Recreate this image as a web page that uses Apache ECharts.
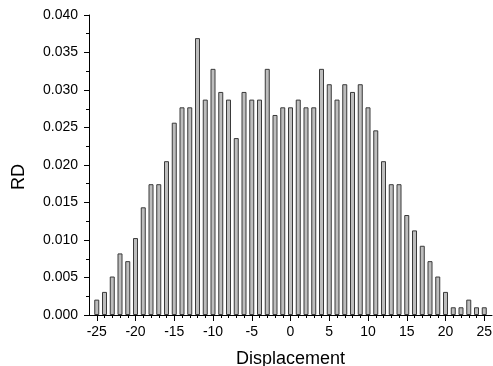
<!DOCTYPE html>
<html>
<head>
<meta charset="utf-8">
<script src="https://cdn.jsdelivr.net/npm/echarts@6/dist/echarts.min.js"></script>
<style>
	html, body { margin: 0; padding: 0; background: #fff; }
	#chart { width: 493px; height: 366px; }
</style>
</head>
<body>
<div id="chart"></div>
<script>
	// displacement bins and relative density
	var displacement = [-25, -24, -23, -22, -21, -20, -19, -18, -17, -16,
		-15, -14, -13, -12, -11, -10, -9, -8, -7, -6,
		-5, -4, -3, -2, -1, 0, 1, 2, 3, 4,
		5, 6, 7, 8, 9, 10, 11, 12, 13, 14,
		15, 16, 17, 18, 19, 20, 21, 22, 23, 24, 25];
	var rd = [0.00205, 0.00308, 0.00513, 0.00821, 0.00718, 0.01026, 0.01436, 0.01744, 0.01744, 0.02051,
		0.02564, 0.02769, 0.02769, 0.03692, 0.02872, 0.03282, 0.02974, 0.02872, 0.02359, 0.02974,
		0.02872, 0.02872, 0.03282, 0.02667, 0.02769, 0.02769, 0.02872, 0.02769, 0.02769, 0.03282,
		0.03077, 0.02872, 0.03077, 0.02974, 0.03077, 0.02769, 0.02462, 0.02051, 0.01744, 0.01744,
		0.01333, 0.01128, 0.00923, 0.00718, 0.00513, 0.00308, 0.00103, 0.00103, 0.00205, 0.00103, 0.00103];
	var xMajorTicks = [-25, -20, -15, -10, -5, 0, 5, 10, 15, 20, 25];
	var xMinorTicks = displacement;

	var barData = [];
	for (var i = 0; i < displacement.length; i++) {
		barData.push([displacement[i], rd[i]]);
	}

	var font = 'Liberation Sans, Arial, sans-serif';
	var chart = echarts.init(document.getElementById('chart'));
	chart.setOption({
		animation: false,
		grid: { left: 89, right: 1, top: 15, bottom: 51, outerBoundsMode: 'none' },
		xAxis: [{
			type: 'value',
			min: -26,
			max: 26,
			name: 'Displacement',
			nameLocation: 'middle',
			nameGap: 35,
			nameTextStyle: { fontFamily: font, fontSize: 18, color: '#000' },
			axisLine: { onZero: false, lineStyle: { color: '#000', width: 1 } },
			axisTick: { show: true, inside: false, length: 6, customValues: xMajorTicks, lineStyle: { color: '#000' } },
			axisLabel: { customValues: xMajorTicks, margin: 10, fontFamily: font, fontSize: 14, color: '#000' },
			splitLine: { show: false }
		}, {
			type: 'value',
			min: -26,
			max: 26,
			position: 'bottom',
			axisLine: { show: false, onZero: false },
			axisTick: { show: true, inside: false, length: 3, customValues: xMinorTicks, lineStyle: { color: '#000' } },
			axisLabel: { show: false },
			splitLine: { show: false }
		}],
		yAxis: {
			type: 'value',
			min: 0,
			max: 0.04,
			interval: 0.005,
			name: 'RD',
			nameLocation: 'middle',
			nameGap: 61,
			nameTextStyle: { fontFamily: font, fontSize: 18, color: '#000', padding: [0, 24, 0, 0] },
			axisLine: { show: true, onZero: false, lineStyle: { color: '#000', width: 1 } },
			axisTick: { show: true, inside: false, length: 5, lineStyle: { color: '#000' } },
			minorTick: { show: true, splitNumber: 2, length: 3, lineStyle: { color: '#000' } },
			axisLabel: {
				margin: 11,
				fontFamily: font,
				fontSize: 14,
				color: '#000',
				formatter: function (v) { return v.toFixed(3); }
			},
			splitLine: { show: false }
		},
		series: [{
			type: 'bar',
			xAxisIndex: 0,
			barWidth: 5,
			itemStyle: { color: '#bdbdbd', borderColor: '#3a3a3a', borderWidth: 1 },
			data: barData
		}]
	});
</script>
</body>
</html>
